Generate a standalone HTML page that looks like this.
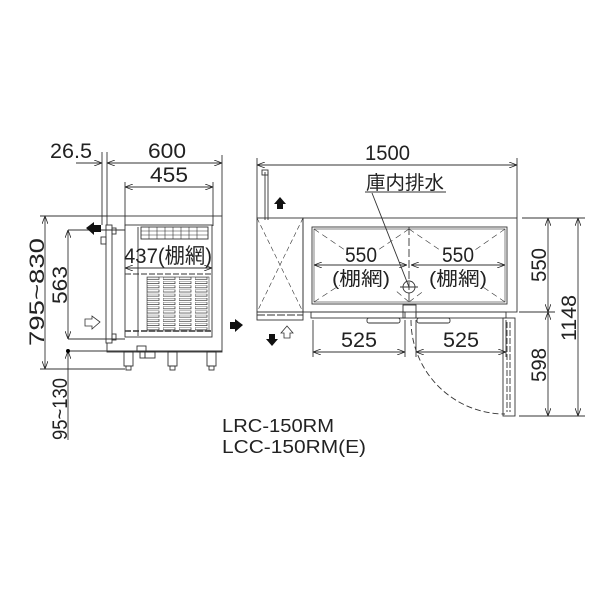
<!DOCTYPE html>
<html><head><meta charset="utf-8"><style>
html,body{margin:0;padding:0;background:#fff;}
svg{display:block;}
text{font-family:"Liberation Sans","Noto Sans CJK JP",sans-serif;fill:#222;}
</style></head><body>
<svg width="600" height="600" viewBox="0 0 600 600" xmlns="http://www.w3.org/2000/svg">
<defs>
<marker id="a" markerWidth="8" markerHeight="6" refX="8" refY="3" orient="auto-start-reverse" markerUnits="userSpaceOnUse"><path d="M0,0 L8,3 L0,6" fill="none" stroke="#222" stroke-width="0.8"/></marker>
<pattern id="sl" width="16" height="4.2" patternUnits="userSpaceOnUse" x="147" y="277"><rect x="0" y="0" width="12" height="2.4" fill="none" stroke="#333" stroke-width="0.7"/></pattern>
</defs>
<g stroke="#333" stroke-width="0.9" fill="none">
<line x1="102" y1="152" x2="102" y2="225"/>
<line x1="107" y1="152" x2="107" y2="216"/>
<line x1="222" y1="155" x2="222" y2="216"/>
<line x1="76" y1="163" x2="102" y2="163" marker-end="url(#a)"/>
<line x1="107" y1="163" x2="222" y2="163" marker-start="url(#a)" marker-end="url(#a)"/>
<line x1="125" y1="182" x2="125" y2="226"/>
<line x1="213" y1="182" x2="213" y2="226"/>
<line x1="125" y1="187" x2="213" y2="187" marker-start="url(#a)" marker-end="url(#a)"/>
<rect x="107" y="216" width="115" height="136"/>
<rect x="125" y="225" width="87" height="112"/>
<rect x="106" y="225" width="6" height="118" fill="#fff"/>
<rect x="101" y="237" width="5" height="7"/>
<rect x="112" y="228" width="4" height="6"/>
<rect x="112" y="334" width="4" height="6"/>
<line x1="138" y1="227" x2="138" y2="336"/>
<rect x="141" y="227" width="67" height="12"/>
<g stroke-width="0.6">
<line x1="141" y1="231" x2="208" y2="231"/><line x1="141" y1="235" x2="208" y2="235"/>
<line x1="149" y1="227" x2="149" y2="239"/><line x1="157" y1="227" x2="157" y2="239"/><line x1="165" y1="227" x2="165" y2="239"/><line x1="173" y1="227" x2="173" y2="239"/><line x1="181" y1="227" x2="181" y2="239"/><line x1="189" y1="227" x2="189" y2="239"/><line x1="197" y1="227" x2="197" y2="239"/>
</g>
<line x1="125" y1="268" x2="212" y2="268" marker-start="url(#a)" marker-end="url(#a)"/>
<line x1="125" y1="274" x2="212" y2="274" stroke-dasharray="6,2"/>
<line x1="125" y1="331" x2="212" y2="331" stroke-dasharray="6,2" stroke-width="1.4"/>
<line x1="68" y1="230" x2="125" y2="230"/>
<line x1="68" y1="339" x2="125" y2="339"/>
<line x1="68" y1="230" x2="68" y2="339" marker-start="url(#a)" marker-end="url(#a)"/>
<line x1="40" y1="216" x2="107" y2="216"/>
<line x1="40" y1="369" x2="125" y2="369"/>
<line x1="45" y1="216" x2="45" y2="369" marker-start="url(#a)" marker-end="url(#a)"/>
<line x1="68" y1="351" x2="222" y2="351"/>
<line x1="68" y1="351" x2="68" y2="440" marker-start="url(#a)"/>
<rect x="124" y="352" width="9" height="14"/><rect x="168" y="352" width="9" height="14"/><rect x="207" y="352" width="9" height="14"/>
<rect x="126" y="366" width="5" height="4"/><rect x="170" y="366" width="5" height="4"/><rect x="209" y="366" width="5" height="4"/>
<rect x="137" y="346" width="9" height="6"/><rect x="140" y="352" width="5" height="6"/><rect x="145" y="352" width="10" height="6"/>
<line x1="257" y1="158" x2="257" y2="218"/>
<line x1="517" y1="158" x2="517" y2="218"/>
<line x1="257" y1="165" x2="517" y2="165" marker-start="url(#a)" marker-end="url(#a)"/>
<line x1="265" y1="172" x2="265" y2="220"/>
<line x1="268" y1="172" x2="268" y2="220"/>
<rect x="262" y="170" width="6" height="5"/>
<rect x="257" y="218" width="46" height="94"/>
<line x1="257" y1="218" x2="303" y2="312" stroke-dasharray="5,3" stroke-width="0.6"/>
<line x1="303" y1="218" x2="257" y2="312" stroke-dasharray="5,3" stroke-width="0.6"/>
<rect x="257" y="312" width="46" height="8"/>
<line x1="257" y1="315" x2="303" y2="315" stroke-dasharray="8,2"/>
<rect x="303" y="218" width="214" height="94"/>
<rect x="312" y="227" width="195" height="77"/>
<rect x="314" y="229" width="191" height="73" stroke-width="0.6"/>
<line x1="409" y1="227" x2="409" y2="304" stroke-dasharray="8,3"/>
<g stroke-width="0.6" stroke-dasharray="6,4">
<line x1="314" y1="229" x2="345" y2="250"/><line x1="314" y1="302" x2="340" y2="285"/>
<line x1="409" y1="229" x2="378" y2="250"/><line x1="409" y1="302" x2="395" y2="290"/>
<line x1="409" y1="229" x2="440" y2="250"/><line x1="409" y1="302" x2="425" y2="290"/>
<line x1="505" y1="229" x2="475" y2="250"/><line x1="505" y1="302" x2="480" y2="285"/>
</g>
<line x1="314" y1="265" x2="407" y2="265" marker-start="url(#a)" marker-end="url(#a)"/>
<line x1="411" y1="265" x2="505" y2="265" marker-start="url(#a)" marker-end="url(#a)"/>
<circle cx="409" cy="287" r="6"/>
<line x1="400" y1="287" x2="418" y2="287"/>
<line x1="372" y1="193" x2="409" y2="287"/>
<rect x="311" y="312" width="94" height="6"/>
<rect x="416" y="312" width="90" height="6"/>
<rect x="403" y="305" width="13" height="13"/>
<rect x="367" y="318" width="33" height="5" rx="2"/>
<rect x="417" y="318" width="33" height="5" rx="2"/>
<line x1="313" y1="320" x2="313" y2="357"/>
<line x1="405" y1="320" x2="405" y2="357"/>
<line x1="416" y1="320" x2="416" y2="357"/>
<line x1="506" y1="320" x2="506" y2="357"/>
<line x1="313" y1="352" x2="405" y2="352" marker-start="url(#a)" marker-end="url(#a)"/>
<line x1="416" y1="352" x2="506" y2="352" marker-start="url(#a)" marker-end="url(#a)"/>
<path d="M411,320 A94,94 0 0 0 505,414" stroke-dasharray="6,3"/>
<rect x="503" y="318" width="12" height="98"/>
<line x1="507" y1="322" x2="507" y2="412" stroke-dasharray="6,2"/>
<line x1="510" y1="322" x2="510" y2="412" stroke-dasharray="6,2"/>
<line x1="522" y1="218" x2="585" y2="218"/>
<line x1="519" y1="312" x2="555" y2="312"/>
<line x1="519" y1="416" x2="585" y2="416"/>
<line x1="548" y1="218" x2="548" y2="312" marker-start="url(#a)" marker-end="url(#a)"/>
<line x1="548" y1="312" x2="548" y2="416" marker-start="url(#a)" marker-end="url(#a)"/>
<line x1="578" y1="218" x2="578" y2="416" marker-start="url(#a)" marker-end="url(#a)"/>
<line x1="365" y1="192" x2="446" y2="192"/>
</g>
<rect x="147" y="277" width="62" height="54" fill="url(#sl)" stroke="#333" stroke-width="0.6"/>
<circle cx="68" cy="351" r="2" fill="#000"/>
<path d="M86,228 L94,222 L94,225 L101,225 L101,232 L94,232 L94,235 Z" fill="#111"/>
<path d="M100,322 L92,316 L92,319 L85,319 L85,326 L92,326 L92,329 Z" fill="#fff" stroke="#333" stroke-width="0.8"/>
<path d="M243,325 L235,319 L235,322 L230,322 L230,329 L235,329 L235,332 Z" fill="#111"/>
<path d="M280,197 L274,204 L277,204 L277,209 L283,209 L283,204 L286,204 Z" fill="#111"/>
<path d="M272,346 L266,339 L269,339 L269,334 L275,334 L275,339 L278,339 Z" fill="#111"/>
<path d="M287,326 L281,333 L284,333 L284,338 L290,338 L290,333 L293,333 Z" fill="#fff" stroke="#333" stroke-width="0.8"/>
<g font-size="21" lengthAdjust="spacingAndGlyphs">
<text x="50" y="158" textLength="42" lengthAdjust="spacingAndGlyphs">26.5</text>
<text x="148" y="158" textLength="38" lengthAdjust="spacingAndGlyphs">600</text>
<text x="150" y="182" textLength="38" lengthAdjust="spacingAndGlyphs">455</text>
<text x="124" y="263" textLength="88" lengthAdjust="spacingAndGlyphs">437(棚網)</text>
<text transform="translate(67,285) rotate(-90)" text-anchor="middle" textLength="38" lengthAdjust="spacingAndGlyphs">563</text>
<text transform="translate(44,292) rotate(-90)" text-anchor="middle" textLength="108" lengthAdjust="spacingAndGlyphs">795~830</text>
<text transform="translate(67,409) rotate(-90)" text-anchor="middle" textLength="62" lengthAdjust="spacingAndGlyphs">95~130</text>
<text x="365" y="160" textLength="45" lengthAdjust="spacingAndGlyphs">1500</text>
<text x="366" y="189" textLength="78" lengthAdjust="spacingAndGlyphs" font-size="19">庫内排水</text>
<text x="345" y="262" textLength="32" lengthAdjust="spacingAndGlyphs">550</text>
<text x="442" y="262" textLength="32" lengthAdjust="spacingAndGlyphs">550</text>
<text x="332" y="285" textLength="58" lengthAdjust="spacingAndGlyphs" font-size="19">(棚網)</text>
<text x="429" y="285" textLength="58" lengthAdjust="spacingAndGlyphs" font-size="19">(棚網)</text>
<text x="341" y="347" textLength="36" lengthAdjust="spacingAndGlyphs">525</text>
<text x="443" y="347" textLength="36" lengthAdjust="spacingAndGlyphs">525</text>
<text transform="translate(546,265) rotate(-90)" text-anchor="middle" textLength="34" lengthAdjust="spacingAndGlyphs">550</text>
<text transform="translate(546,365) rotate(-90)" text-anchor="middle" textLength="34" lengthAdjust="spacingAndGlyphs">598</text>
<text transform="translate(576,318) rotate(-90)" text-anchor="middle" textLength="46" lengthAdjust="spacingAndGlyphs">1148</text>
</g>
<text x="222" y="432" font-size="18" textLength="112" lengthAdjust="spacingAndGlyphs">LRC-150RM</text>
<text x="222" y="453" font-size="18" textLength="144" lengthAdjust="spacingAndGlyphs">LCC-150RM(E)</text>
</svg>
</body></html>
